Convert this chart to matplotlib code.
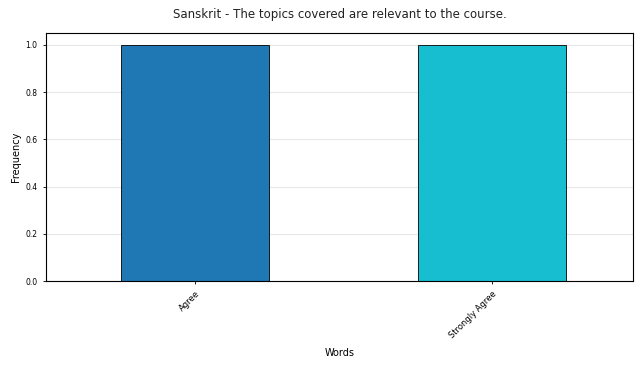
import matplotlib
matplotlib.use("Agg")
import matplotlib.pyplot as plt

# Datos
categorias = ["Agree", "Strongly Agree"]
frecuencias = [1, 1]
colores = ["#1f77b4", "#17becf"]

fig = plt.figure(figsize=(6.36, 3.66), dpi=100)
ax = fig.add_axes([0.0723, 0.232, 0.923, 0.678])

ax.bar(range(len(categorias)), frecuencias, width=0.5, color=colores,
       edgecolor="black", linewidth=0.6, zorder=2)

ax.set_xlim(-0.503, 1.475)
ax.set_ylim(0, 1.05)
ax.set_xticks(range(len(categorias)))
ax.set_xticklabels(categorias, rotation=45, ha="right", rotation_mode="anchor", fontsize=6)
ax.set_yticks([0.0, 0.2, 0.4, 0.6, 0.8, 1.0])
ax.tick_params(axis="y", labelsize=5.5)
ax.tick_params(length=2.5, width=0.6)
ax.grid(axis="y", alpha=0.3, zorder=0)

ax.set_title("Sanskrit - The topics covered are relevant to the course.", fontsize=8.5, pad=11,
             color="#222222")
ax.set_xlabel("Words", fontsize=7, labelpad=6)
ax.set_ylabel("Frequency", fontsize=7, labelpad=3)

for s in ax.spines.values():
    s.set_linewidth(0.8)

fig.savefig("out.png", dpi=100)
